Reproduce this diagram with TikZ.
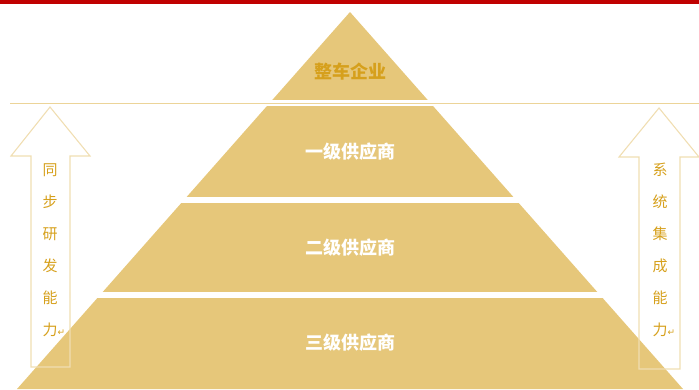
\documentclass[tikz,border=0pt]{standalone}
\usepackage{fontspec}
\newfontfamily\cjk{Noto Sans CJK SC}
\newfontfamily\symfont{DejaVu Sans}
\usepackage{tikz}
\usetikzlibrary{calc,positioning}
\usepackage{xcolor}
\definecolor{pyramidtan}{RGB}{230,199,122}
\definecolor{darkgold}{RGB}{214,160,28}
\definecolor{palegold}{RGB}{240,222,178}
\definecolor{linegold}{RGB}{236,212,152}
\definecolor{topred}{RGB}{192,0,0}

\begin{document}
\begin{tikzpicture}[x=1pt,y=-1pt]
    \useasboundingbox (0,0) rectangle (699,389);
    \tikzstyle{tier}=[text=white,font=\cjk\bfseries\fontsize{18}{18}\selectfont]
    \tikzstyle{sidearrow}=[draw=palegold,line width=1.1pt,line join=miter]
    \tikzstyle{sidetext}=[text=darkgold,align=center,font=\cjk\fontsize{15}{32}\selectfont]

    % Red rule at the top
    \fill[topred] (0,0) rectangle (699,3.5);

    % Pyramid corners
    \coordinate (apex) at (350,12);
    \coordinate (bl) at (17,389);
    \coordinate (br) at (683,389);

    % Draw the pyramid and cut it into tiers
    \fill[pyramidtan] (apex) -- (bl) -- (br) -- cycle;
    \fill[white] (0,100) rectangle (699,106);
    \fill[white] (0,197) rectangle (699,203);
    \fill[white] (0,292) rectangle (699,298);

    % Dividing line below the top tier
    \draw[linegold,line width=1.8pt] (10,103.5) -- (699,103.5);

    % Tier labels
    \node (oem)[tier,text=darkgold] at (350,72) {整车企业};
    \node (tier1)[tier] at (350,152) {一级供应商};
    \node (tier2)[tier] at (350,248) {二级供应商};
    \node (tier3)[tier] at (350,343) {三级供应商};

    % Left arrow (pointing up)
    \coordinate (ltip) at (50,107);
    \draw[sidearrow] (ltip) -- (90,156) -- (70,156) -- (70,367)
        -- (31,367) -- (31,156) -- (11,156) -- cycle;
    \node (rnd)[sidetext] at (50,250)
        {同\\步\\研\\发\\能\\力\rlap{\symfont\fontsize{9}{9}\selectfont ↵}};

    % Right arrow (pointing up)
    \coordinate (rtip) at (659,108);
    \draw[sidearrow] (rtip) -- (699,157) -- (680,157) -- (680,369)
        -- (639,369) -- (639,157) -- (619,157) -- cycle;
    \node (integ)[sidetext] at (660,250)
        {系\\统\\集\\成\\能\\力\rlap{\symfont\fontsize{9}{9}\selectfont ↵}};
\end{tikzpicture}
\end{document}
